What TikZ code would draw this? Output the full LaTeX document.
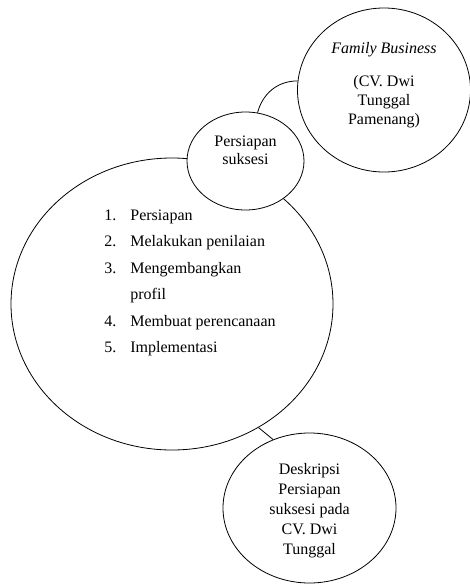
\documentclass[tikz,border=0pt]{standalone}
\usepackage{fontspec}
\setmainfont{Liberation Serif}
\usetikzlibrary{shapes.geometric}
\tikzset{
  bubble/.style={draw, ellipse, fill=white, inner sep=0pt},
  txt/.style={align=center, inner sep=0pt, font=\fontsize{16}{19}\selectfont}
}
\begin{document}
\begin{tikzpicture}[x=1pt, y=-1pt, line width=0.8pt]
    \useasboundingbox (0,0) rectangle (470,584);
    \node [bubble, minimum width=322pt, minimum height=292pt] (B) at (172,304) {};
    \node [bubble, minimum width=173pt, minimum height=164pt,
           label={[txt, yshift=5pt]center:\textit{Family Business}\\[14.5pt](CV. Dwi\\Tunggal\\Pamenang)}] (F) at (384,90) {};
    \node [bubble, minimum width=117pt, minimum height=98pt,
           label={[txt, yshift=10.5pt, font=\fontsize{16}{18}\selectfont]center:Persiapan\\suksesi}] (P) at (245.5,161) {};
    \node [bubble, minimum width=173pt, minimum height=150pt,
           label={[txt, yshift=-3pt, font=\fontsize{16}{20}\selectfont]center:Deskripsi\\Persiapan\\suksesi pada\\CV. Dwi\\Tunggal}] (D) at (309.5,508) {};

    \node [txt, align=left, anchor=north west, font=\fontsize{16}{26.4}\selectfont] (L) at (104,209.5)
        {\makebox[26pt][l]{1.}Persiapan\\
         \makebox[26pt][l]{2.}Melakukan penilaian\\
         \makebox[26pt][l]{3.}Mengembangkan\\
         \hspace*{26pt}profil\\
         \makebox[26pt][l]{4.}Membuat perencanaan\\
         \makebox[26pt][l]{5.}Implementasi};

    \draw (P.76) to[out=75, in=180] (F.174);
    \draw (B.-55) -- (D.118);
\end{tikzpicture}
\end{document}
